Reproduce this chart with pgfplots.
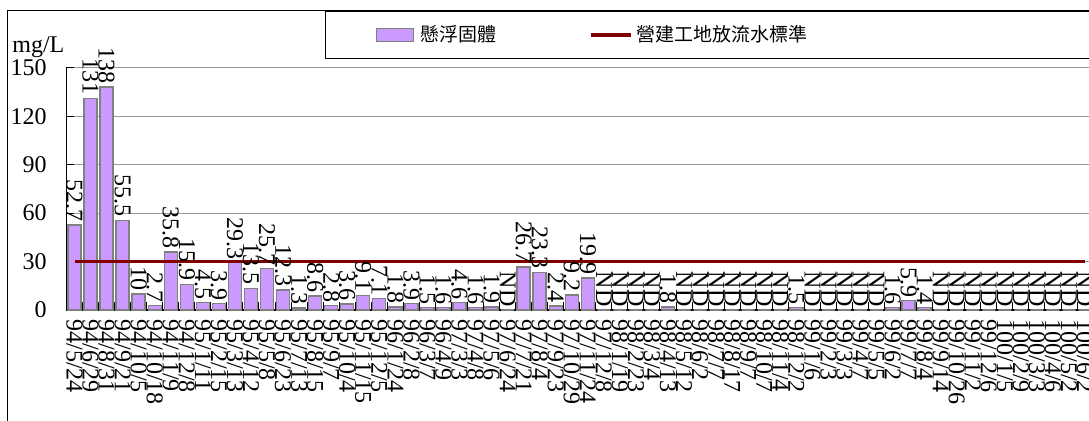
\documentclass[border=0pt]{standalone}
\usepackage{pgfplots}
\pgfplotsset{compat=1.18}
\usepackage{pgfplotstable}
\usepackage{fontspec}
\setmainfont{Liberation Serif}
\newfontfamily\cjk{Noto Sans CJK TC}
\definecolor{barfill}{HTML}{CC99FF}
\definecolor{barline}{HTML}{808080}
\definecolor{stdred}{HTML}{800000}

% suspended solids (mg/L) per sampling date; ND = not detected
\pgfplotstableread{
x date tss lab std
0 94/5/24 52.7 52.7 30
1 94/6/29 131 131 30
2 94/8/31 138 138 30
3 94/9/21 55.5 55.5 30
4 94/10/5 10 10 30
5 94/10/18 2.7 2.7 30
6 94/11/9 35.8 35.8 30
7 94/12/8 15.9 15.9 30
8 95/1/11 4.5 4.5 30
9 95/2/15 3.9 3.9 30
10 95/3/13 29.3 29.3 30
11 95/4/12 13.5 13.5 30
12 95/5/8 25.7 25.7 30
13 95/6/23 12.3 12.3 30
14 95/7/13 1.3 1.3 30
15 95/8/15 8.6 8.6 30
16 95/9/7 2.8 2.8 30
17 95/10/4 3.6 3.6 30
18 95/11/15 9.1 9.1 30
19 95/12/5 7.1 7.1 30
20 96/1/24 1.8 1.8 30
21 96/2/8 3.9 3.9 30
22 96/3/7 1.5 1.5 30
23 96/4/9 1.6 1.6 30
24 97/3/3 4.6 4.6 30
25 97/4/8 1.6 1.6 30
26 97/5/6 1.9 1.9 30
27 97/6/24 0 ND 30
28 97/7/21 26.7 26.7 30
29 97/8/4 23.3 23.3 30
30 97/9/23 2.4 2.4 30
31 97/10/29 9.2 9.2 30
32 97/11/24 19.9 19.9 30
33 97/12/8 0 ND 30
34 98/1/19 0 ND 30
35 98/2/23 0 ND 30
36 98/3/4 0 ND 30
37 98/4/13 1.8 1.8 30
38 98/5/12 0 ND 30
39 98/6/2 0 ND 30
40 98/7/7 0 ND 30
41 98/8/17 0 ND 30
42 98/9/7 0 ND 30
43 98/10/7 0 ND 30
44 98/11/4 0 ND 30
45 98/12/2 1.5 1.5 30
46 99/1/6 0 ND 30
47 99/2/3 0 ND 30
48 99/3/3 0 ND 30
49 99/4/7 0 ND 30
50 99/5/5 0 ND 30
51 99/6/2 1.6 1.6 30
52 99/7/7 5.9 5.9 30
53 99/8/4 1.4 1.4 30
54 99/9/14 0 ND 30
55 99/10/26 0 ND 30
56 99/11/2 0 ND 30
57 99/12/6 0 ND 30
58 100/1/5 0 ND 30
59 100/2/9 0 ND 30
60 100/3/3 0 ND 30
61 100/4/6 0 ND 30
62 100/5/2 0 ND 30
63 100/6/2 0 ND 30
}\data

\begin{document}
\begin{tikzpicture}
\useasboundingbox (0,0) rectangle (544.5pt,210pt);
\draw[line width=0.5pt] (3.5pt,-10pt) -- (3.5pt,204.75pt) -- (560pt,204.75pt);
\begin{axis}[
  at={(33.25pt,55pt)}, anchor=south west,
  scale only axis, width=513.3pt, height=121.15pt,
  xmin=-0.5, xmax=63.5, ymin=0, ymax=150,
  clip=false,
  ytick={0,30,...,150},
  xtick={0,...,63},
  xticklabels from table={\data}{date},
  minor xtick={-0.5,0.5,...,63.5},
  axis x line*=bottom, axis y line*=left,
  axis line style={black, line width=0.6pt},
  tick align=inside, major tick length=4pt, minor tick length=4pt,
  major x tick style={draw=none},
  minor x tick style={black, line width=0.5pt},
  y tick style={black, line width=0.5pt},
  ymajorgrids, grid style={color=black!40, line width=0.5pt},
  /pgf/number format/assume math mode=true,
  tick label style={font=\fontsize{12}{14}\selectfont},
  yticklabel style={inner sep=0pt, xshift=-9.75pt},
  xticklabel style={rotate=-90, anchor=west, inner sep=0pt, inner xsep=4.5pt},
  ylabel={mg/L},
  every axis y label/.style={at={(axis description cs:-0.0531,1.0607)}, anchor=base west, inner sep=0pt, font=\fontsize{12}{14}\selectfont},
  legend columns=2,
  legend style={at={(0.2518,1.2352)}, anchor=north west, draw=black, line width=0.6pt, fill=white,
    inner xsep=25pt, inner ysep=5pt, font=\cjk\fontsize{9.5}{11}\selectfont,
    /tikz/every even column/.append style={column sep=44pt}},
]
\addplot[ybar, bar width=6.5pt, fill=barfill, draw=barline, line width=0.7pt,
  legend image code/.code={\draw[fill=barfill, draw=barline, line width=0.7pt] (0pt,-3.25pt) rectangle (18.5pt,3.25pt);}]
  table[x=x, y=tss] {\data};
\addlegendentry{\hspace{1.5pt}懸浮固體}
\addplot[stdred, line width=1.7pt, mark=none, sharp plot,
  legend image code/.code={\draw[stdred, line width=1.7pt] (0pt,0pt) -- (20pt,0pt);}]
  table[x=x, y=std] {\data};
\addlegendentry{\makebox[230pt][l]{營建工地放流水標準}}
\addplot[ybar, bar width=6.5pt, draw=none, fill=none, forget plot,
  point meta=explicit symbolic, nodes near coords={\pgfplotspointmeta},
  every node near coord/.append style={rotate=-90, anchor=east, inner sep=0pt, inner xsep=1.5pt, font=\fontsize{12}{14}\selectfont, text=black}]
  table[x=x, y=tss, meta=lab] {\data};
\end{axis}
\end{tikzpicture}
\end{document}
